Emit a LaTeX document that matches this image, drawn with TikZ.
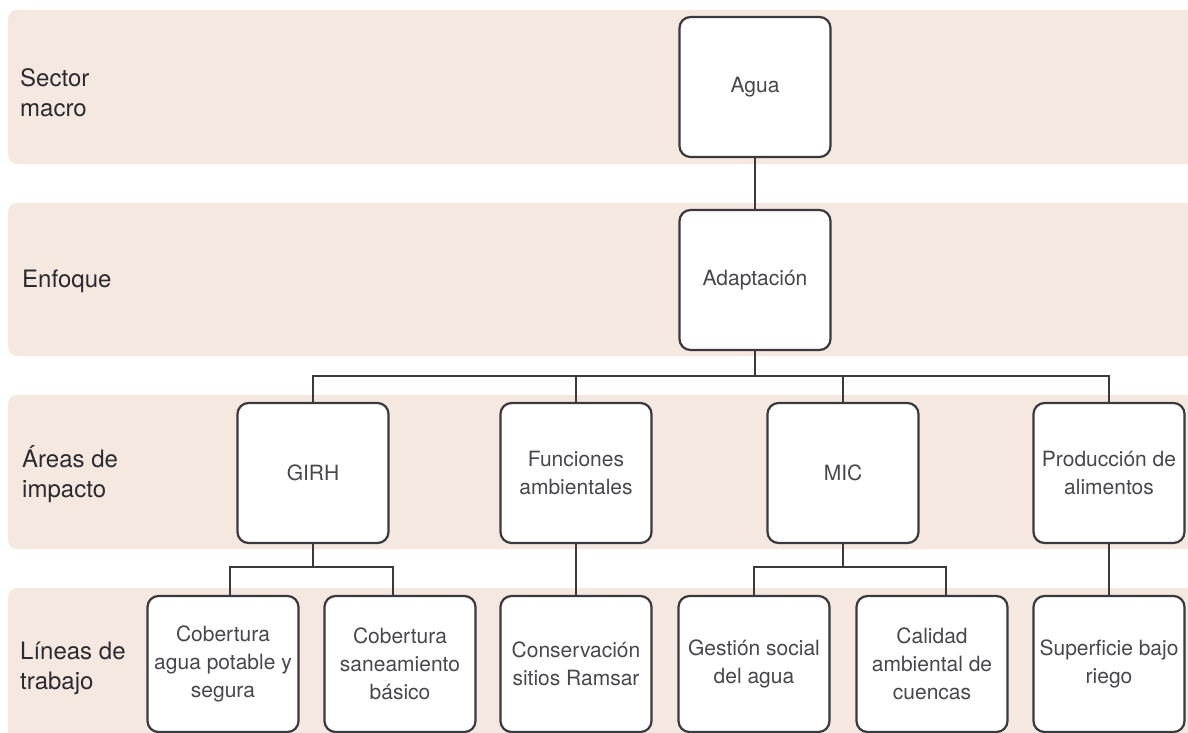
\documentclass[tikz,border=0pt]{standalone}
\usepackage{fontspec}
\setmainfont{TeX Gyre Heros}
\usetikzlibrary{calc}
\definecolor{bandfill}{RGB}{245,232,224}
\definecolor{boxline}{RGB}{58,58,62}
\definecolor{boxtext}{RGB}{72,72,76}
\definecolor{labeltext}{RGB}{42,42,48}

\begin{document}
\begin{tikzpicture}[x=1pt,y=-1pt,
    band/.style={fill=bandfill, rounded corners=9pt},
    level/.style={anchor=west, align=left, inner sep=0pt, text=labeltext,
      font=\fontsize{24}{30}\selectfont},
    item/.style={draw=boxline, line width=2.2pt, fill=white, rounded corners=11pt,
      minimum width=151pt, minimum height=140pt, inner sep=2pt, align=center,
      text=boxtext, font=\fontsize{21}{28}\selectfont},
    low/.style={item, minimum height=136pt},
    link/.style={draw=boxline, line width=2.2pt}]
    \useasboundingbox (0,0) rectangle (1188,733);
    \clip (0,0) rectangle (1188,733);

    % bands
    \fill[band] (8,10) rectangle (1210,164);
    \fill[band] (8,203) rectangle (1210,356);
    \fill[band] (8,395) rectangle (1210,549);
    \fill[band] (8,588) rectangle (1210,760);

    \node[level] (l1) at (20,93) {Sector\\macro};
    \node[level] (l2) at (22,281) {Enfoque};
    \node[level] (l3) at (22,474) {Áreas de\\impacto};
    \node[level] (l4) at (20,668) {Líneas de\\trabajo};

    \node[item] (agua) at (755,87) {Agua};
    \node[item] (adapt) at (755,280) {Adaptación};

    \node[item] (girh) at (313,473) {GIRH};
    \node[item] (func) at (576,473) {Funciones\\ambientales};
    \node[item] (mic) at (843,473) {MIC};
    \node[item] (prod) at (1109,473) {Producción de\\alimentos};

    \node[low] (cob1) at (223,664) {Cobertura\\agua potable y\\segura};
    \node[low] (cob2) at (400,664) {Cobertura\\saneamiento\\básico};
    \node[low] (cons) at (576,664) {Conservación\\sitios Ramsar};
    \node[low] (gest) at (754,664) {Gestión social\\del agua};
    \node[low] (cal) at (932,664) {Calidad\\ambiental de\\cuencas};
    \node[low] (sup) at (1109,664) {Superficie bajo\\riego};

    \coordinate (bus) at (755,376);
    \coordinate (gl) at (230,567);
    \coordinate (gr) at (393,567);
    \coordinate (ml) at (754,567);
    \coordinate (mr) at (946,567);

    \draw[link] (agua) -- (adapt);
    \draw[link] (adapt.south) -- (bus);
    \draw[link] (girh.north) |- (bus) -| (prod.north);
    \draw[link] (func.north) -- (func.north |- bus);
    \draw[link] (mic.north) -- (mic.north |- bus);

    \draw[link] (girh.south) -- (girh.south |- gl);
    \draw[link] (cob1.north -| gl) |- (gr) -- (cob2.north -| gr);
    \draw[link] (func) -- (cons);
    \draw[link] (mic.south) -- (mic.south |- ml);
    \draw[link] (gest.north) |- (mr) -- (cal.north -| mr);
    \draw[link] (prod) -- (sup);
  \end{tikzpicture}
\end{document}
